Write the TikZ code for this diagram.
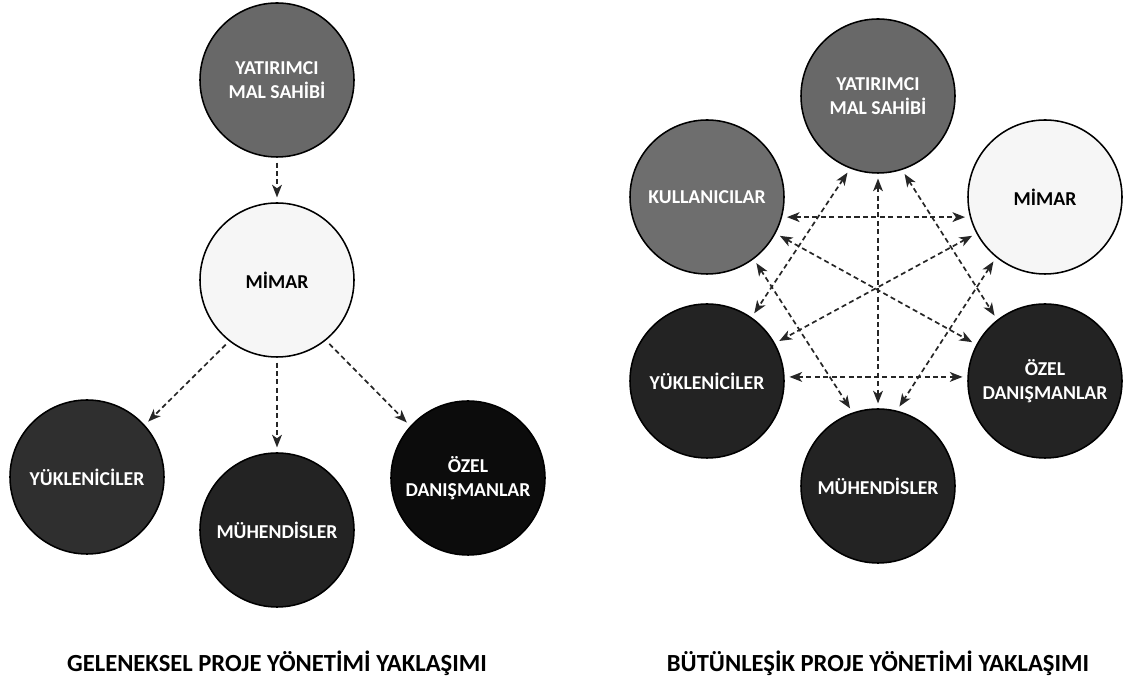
\documentclass[tikz,border=0pt]{standalone}
\usepackage{fontspec}
\setmainfont{Carlito}
\usetikzlibrary{arrows.meta}

\definecolor{ownergray}{HTML}{686868}
\definecolor{usergray}{HTML}{6E6E6E}
\definecolor{archwhite}{HTML}{F6F6F6}
\definecolor{darkone}{HTML}{2F2F2F}
\definecolor{darktwo}{HTML}{232323}
\definecolor{darkthree}{HTML}{0C0C0C}

\tikzset{
  actor/.style={draw=black,line width=1.1pt,shape=circle,minimum size=3.85cm,inner sep=0pt,
    align=center,text=white,font=\fontsize{14}{17}\selectfont\bfseries},
  flow/.style={-{Stealth[length=9pt,width=7pt,inset=2.5pt]},line width=1.2pt,
    dash pattern=on 3.6pt off 2.4pt,black!85,shorten <=0.12cm,shorten >=0.12cm},
  bothflow/.style={flow,{Stealth[length=9pt,width=7pt,inset=2.5pt]}-{Stealth[length=9pt,width=7pt,inset=2.5pt]}},
  caption/.style={font=\fontsize{17.5}{20}\selectfont\bfseries}
}

\begin{document}
\begin{tikzpicture}
\useasboundingbox (0,0) rectangle (28.075,17.175);

% geleneksel yaklasim
\node (yat1) [actor,fill=ownergray] at (6.925,15.175) {YATIRIMCI\\MAL SAHİBİ};
\node (mim1) [actor,fill=archwhite,text=black] at (6.925,10.175) {MİMAR};
\node (yuk1) [actor,fill=darkone] at (2.175,5.25) {YÜKLENİCİLER};
\node (muh1) [actor,fill=darktwo] at (6.925,3.925) {MÜHENDİSLER};
\node (oze1) [actor,fill=darkthree] at (11.7,5.225) {ÖZEL\\DANIŞMANLAR};
\node (cap1) [caption] at (6.925,0.6) {GELENEKSEL PROJE YÖNETİMİ YAKLAŞIMI};

\draw[flow] (yat1.south) -- (mim1.north);
\draw[flow] (mim1.232) -- (yuk1.42);
\draw[flow] (mim1.south) -- (muh1.north);
\draw[flow] (mim1.309) -- (oze1.138);

% butunlesik yaklasim
\node (yat2) [actor,fill=ownergray] at (21.95,14.775) {YATIRIMCI\\MAL SAHİBİ};
\node (kul2) [actor,fill=usergray] at (17.675,12.25) {KULLANICILAR};
\node (mim2) [actor,fill=archwhite,text=black] at (26.125,12.25) {MİMAR};
\node (yuk2) [actor,fill=darktwo] at (17.675,7.65) {YÜKLENİCİLER};
\node (oze2) [actor,fill=darktwo] at (26.125,7.65) {ÖZEL\\DANIŞMANLAR};
\node (muh2) [actor,fill=darktwo] at (21.95,5.025) {MÜHENDİSLER};
\node (cap2) [caption] at (21.95,0.6) {BÜTÜNLEŞİK PROJE YÖNETİMİ YAKLAŞIMI};

\draw[bothflow] (yat2.south) -- (muh2.north);
\draw[bothflow] (kul2.-15) -- (mim2.195);
\draw[bothflow] (yuk2.3) -- (oze2.177);
\draw[bothflow] (yat2.249) -- (yuk2.55);
\draw[bothflow] (yat2.288) -- (oze2.128);
\draw[bothflow] (kul2.332) -- (oze2.152);
\draw[bothflow] (mim2.208) -- (yuk2.29);
\draw[bothflow] (kul2.307) -- (muh2.109);
\draw[bothflow] (mim2.231) -- (muh2.76);

\end{tikzpicture}
\end{document}
